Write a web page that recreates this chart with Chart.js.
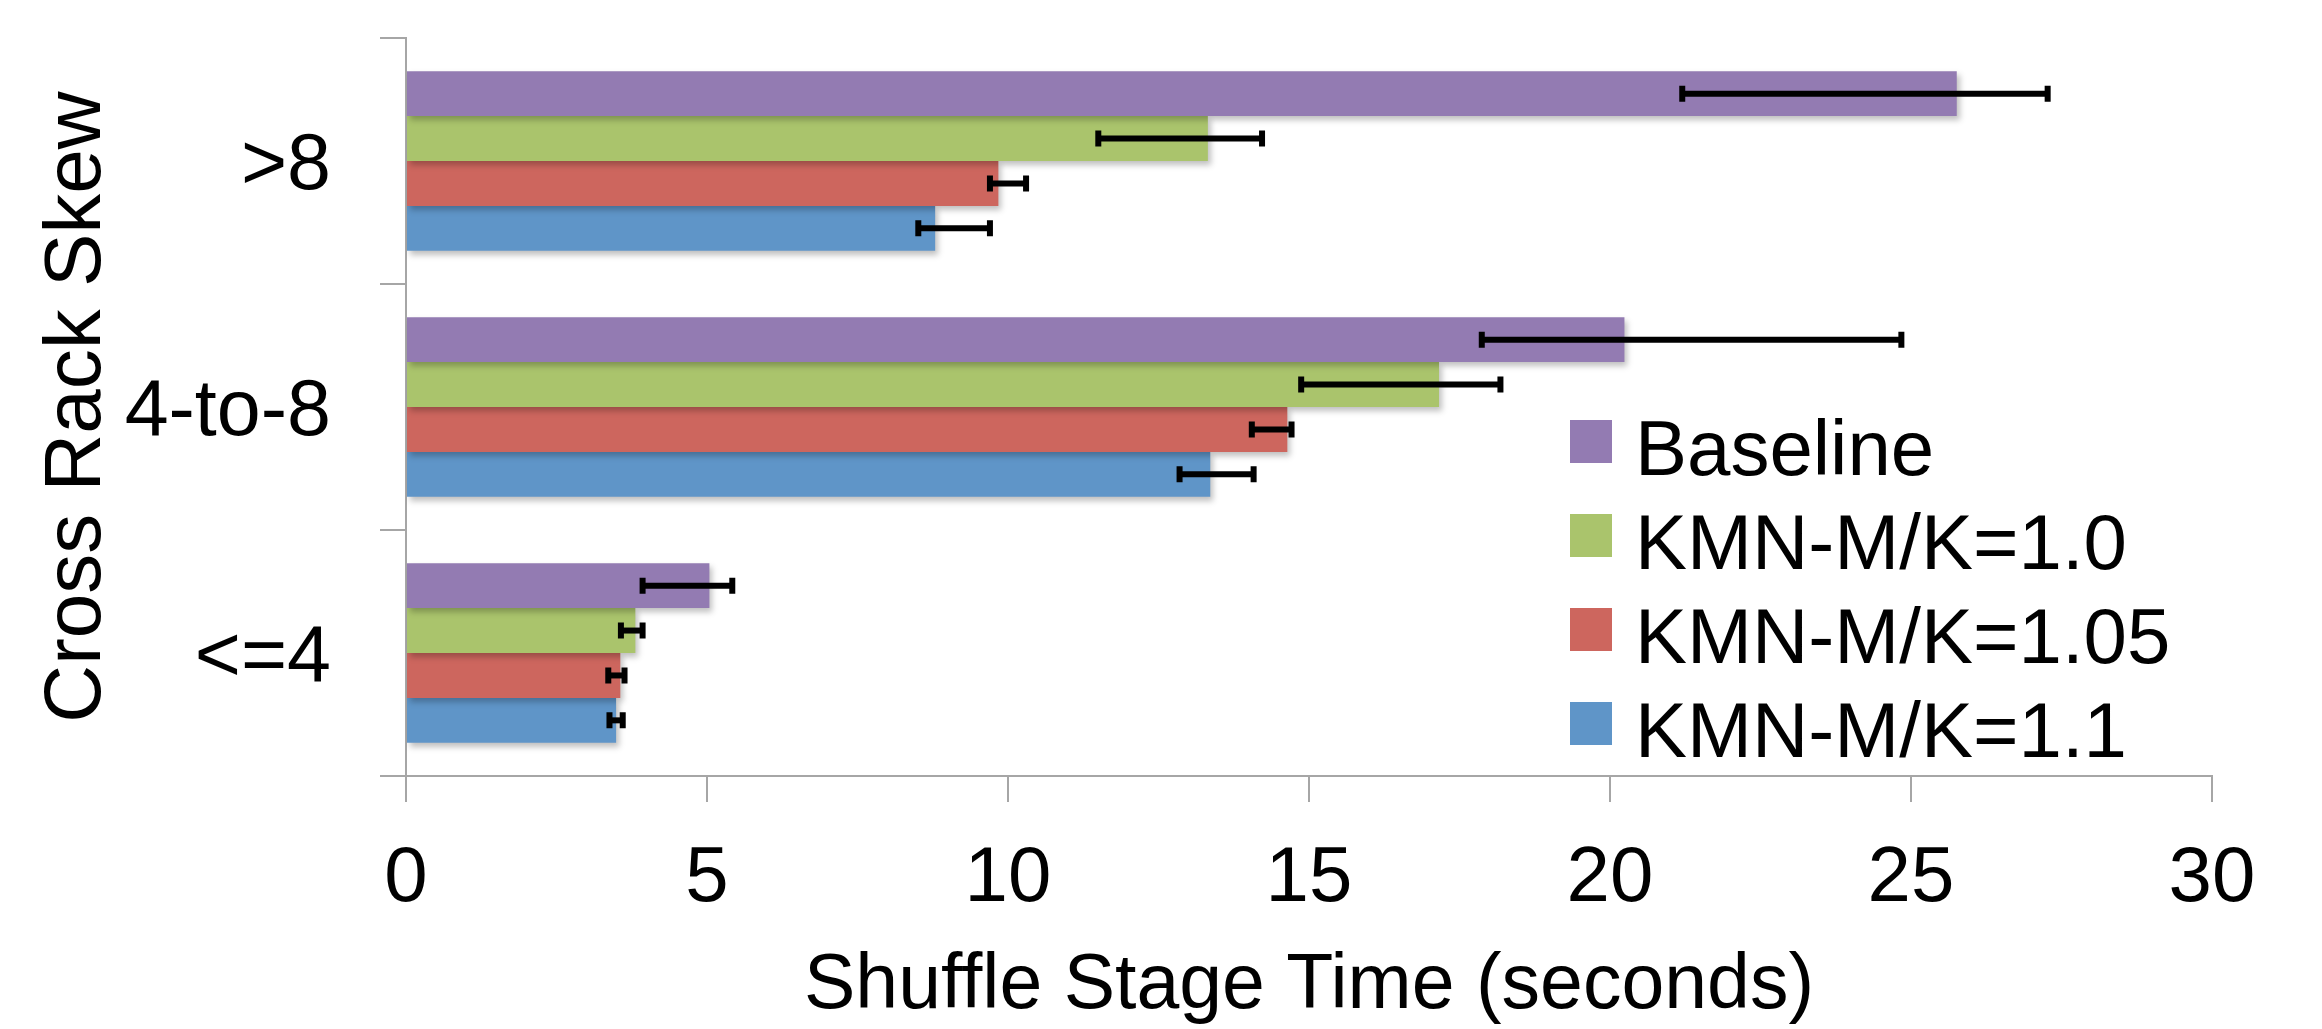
<!DOCTYPE html>
<html>
<head>
<meta charset="utf-8">
<script src="https://cdn.jsdelivr.net/npm/chart.js@4.4.1/dist/chart.umd.min.js"></script>
<style>
  html, body { margin: 0; padding: 0; background: #ffffff; overflow: hidden; }
  canvas { display: block; }
</style>
</head>
<body>
<canvas id="c" width="2322" height="1029"></canvas>
<script>
// ---- data ----
const categories = ['>8', '4-to-8', '<=4'];
const seriesNames = ['Baseline', 'KMN-M/K=1.0', 'KMN-M/K=1.05', 'KMN-M/K=1.1'];
const seriesColors = ['#937BB2', '#AAC46C', '#CD665E', '#5F95C8'];

const baseline      = [25.76, 20.24, 5.04];
const baselineLow   = [21.20, 17.87, 3.93];
const baselineHigh  = [27.27, 24.84, 5.42];

const kmn10         = [13.32, 17.16, 3.81];
const kmn10Low      = [11.50, 14.87, 3.57];
const kmn10High     = [14.22, 18.18, 3.93];

const kmn105        = [9.84, 14.64, 3.56];
const kmn105Low     = [9.70, 14.05, 3.36];
const kmn105High    = [10.30, 14.71, 3.63];

const kmn11         = [8.79, 13.36, 3.49];
const kmn11Low      = [8.51, 12.85, 3.38];
const kmn11High     = [9.70, 14.08, 3.60];

const xMin = 0, xMax = 30, xStep = 5;
const xTitle = 'Shuffle Stage Time (seconds)';
const yTitle = 'Cross Rack Skew';

const values = [baseline, kmn10, kmn105, kmn11];
const lows   = [baselineLow, kmn10Low, kmn105Low, kmn11Low];
const highs  = [baselineHigh, kmn10High, kmn105High, kmn11High];

const FONT = '"Liberation Sans", Arial, Helvetica, sans-serif';
const AXIS_GRAY = '#A6A6A6';

const datasets = seriesNames.map((name, i) => ({
  label: name,
  data: values[i],
  errLow: lows[i],
  errHigh: highs[i],
  backgroundColor: seriesColors[i],
  borderWidth: 0,
  categoryPercentage: 0.73,
  barPercentage: 1.0
}));

const shadowPlugin = {
  id: 'barShadow',
  beforeDatasetsDraw(chart) {
    const ctx = chart.ctx;
    ctx.save();
    ctx.shadowColor = 'rgba(0,0,0,0.25)';
    ctx.shadowBlur = 6;
    ctx.shadowOffsetX = 3;
    ctx.shadowOffsetY = 4;
  },
  afterDatasetsDraw(chart) {
    chart.ctx.restore();
  }
};

const errorBarPlugin = {
  id: 'errorBars',
  afterDatasetsDraw(chart) {
    const ctx = chart.ctx;
    const xs = chart.scales.x;
    chart.data.datasets.forEach((ds, i) => {
      const meta = chart.getDatasetMeta(i);
      meta.data.forEach((bar, j) => {
        const lo = xs.getPixelForValue(ds.errLow[j]);
        const hi = xs.getPixelForValue(ds.errHigh[j]);
        const y = bar.y;
        ctx.save();
        ctx.strokeStyle = '#000000';
        ctx.lineWidth = 6;
        ctx.lineCap = 'butt';
        ctx.beginPath();
        ctx.moveTo(lo, y);
        ctx.lineTo(hi, y);
        ctx.stroke();
        ctx.beginPath();
        ctx.moveTo(lo, y - 8); ctx.lineTo(lo, y + 8);
        ctx.moveTo(hi, y - 8); ctx.lineTo(hi, y + 8);
        ctx.stroke();
        ctx.restore();
      });
    });
  }
};

const insideLegendPlugin = {
  id: 'insideLegend',
  afterDraw(chart) {
    const ctx = chart.ctx;
    const area = chart.chartArea;
    const x0 = area.right - 642;
    const y0 = area.top + 382;
    const pitch = 94;
    ctx.save();
    ctx.font = '78px ' + FONT;
    ctx.textBaseline = 'alphabetic';
    ctx.textAlign = 'left';
    chart.data.datasets.forEach((ds, i) => {
      const top = y0 + i * pitch;
      ctx.fillStyle = ds.backgroundColor;
      ctx.fillRect(x0, top, 42, 43);
      ctx.fillStyle = '#000000';
      ctx.fillText(ds.label, x0 + 65, top + 55);
    });
    ctx.restore();
  }
};

new Chart(document.getElementById('c'), {
  type: 'bar',
  data: { labels: categories, datasets: datasets },
  plugins: [shadowPlugin, errorBarPlugin, insideLegendPlugin],
  options: {
    indexAxis: 'y',
    responsive: false,
    animation: false,
    devicePixelRatio: 1,
    layout: { padding: { top: 38, right: 110, bottom: 0, left: 0 } },
    plugins: {
      legend: { display: false },
      tooltip: { enabled: false },
      title: { display: false }
    },
    scales: {
      x: {
        type: 'linear',
        position: 'bottom',
        min: xMin,
        max: xMax,
        ticks: {
          stepSize: xStep,
          color: '#000000',
          font: { family: FONT, size: 78 },
          padding: 31,
          maxRotation: 0
        },
        grid: {
          drawOnChartArea: false,
          drawTicks: true,
          tickLength: 26,
          color: AXIS_GRAY,
          lineWidth: 2
        },
        border: { display: true, color: AXIS_GRAY, width: 2 },
        title: {
          display: true,
          text: xTitle,
          color: '#000000',
          font: { family: FONT, size: 77, lineHeight: 1.0 },
          padding: { top: 0, bottom: 4 }
        },
        afterFit(scale) { scale.height = 253; }
      },
      y: {
        type: 'category',
        position: 'left',
        ticks: {
          color: '#000000',
          font: { family: FONT, size: 79 },
          padding: 49,
          labelOffset: 6
        },
        grid: {
          offset: true,
          drawOnChartArea: false,
          drawTicks: true,
          tickLength: 26,
          color: AXIS_GRAY,
          lineWidth: 2
        },
        border: { display: true, color: AXIS_GRAY, width: 2 },
        title: {
          display: true,
          text: yTitle,
          color: '#000000',
          font: { family: FONT, size: 80, lineHeight: 1.2 },
          padding: { top: 30, bottom: 0 }
        },
        afterFit(scale) {
          scale.width = 406;
          scale.paddingTop = 0;
          scale.paddingBottom = 0;
        }
      }
    }
  }
});
</script>
</body>
</html>
